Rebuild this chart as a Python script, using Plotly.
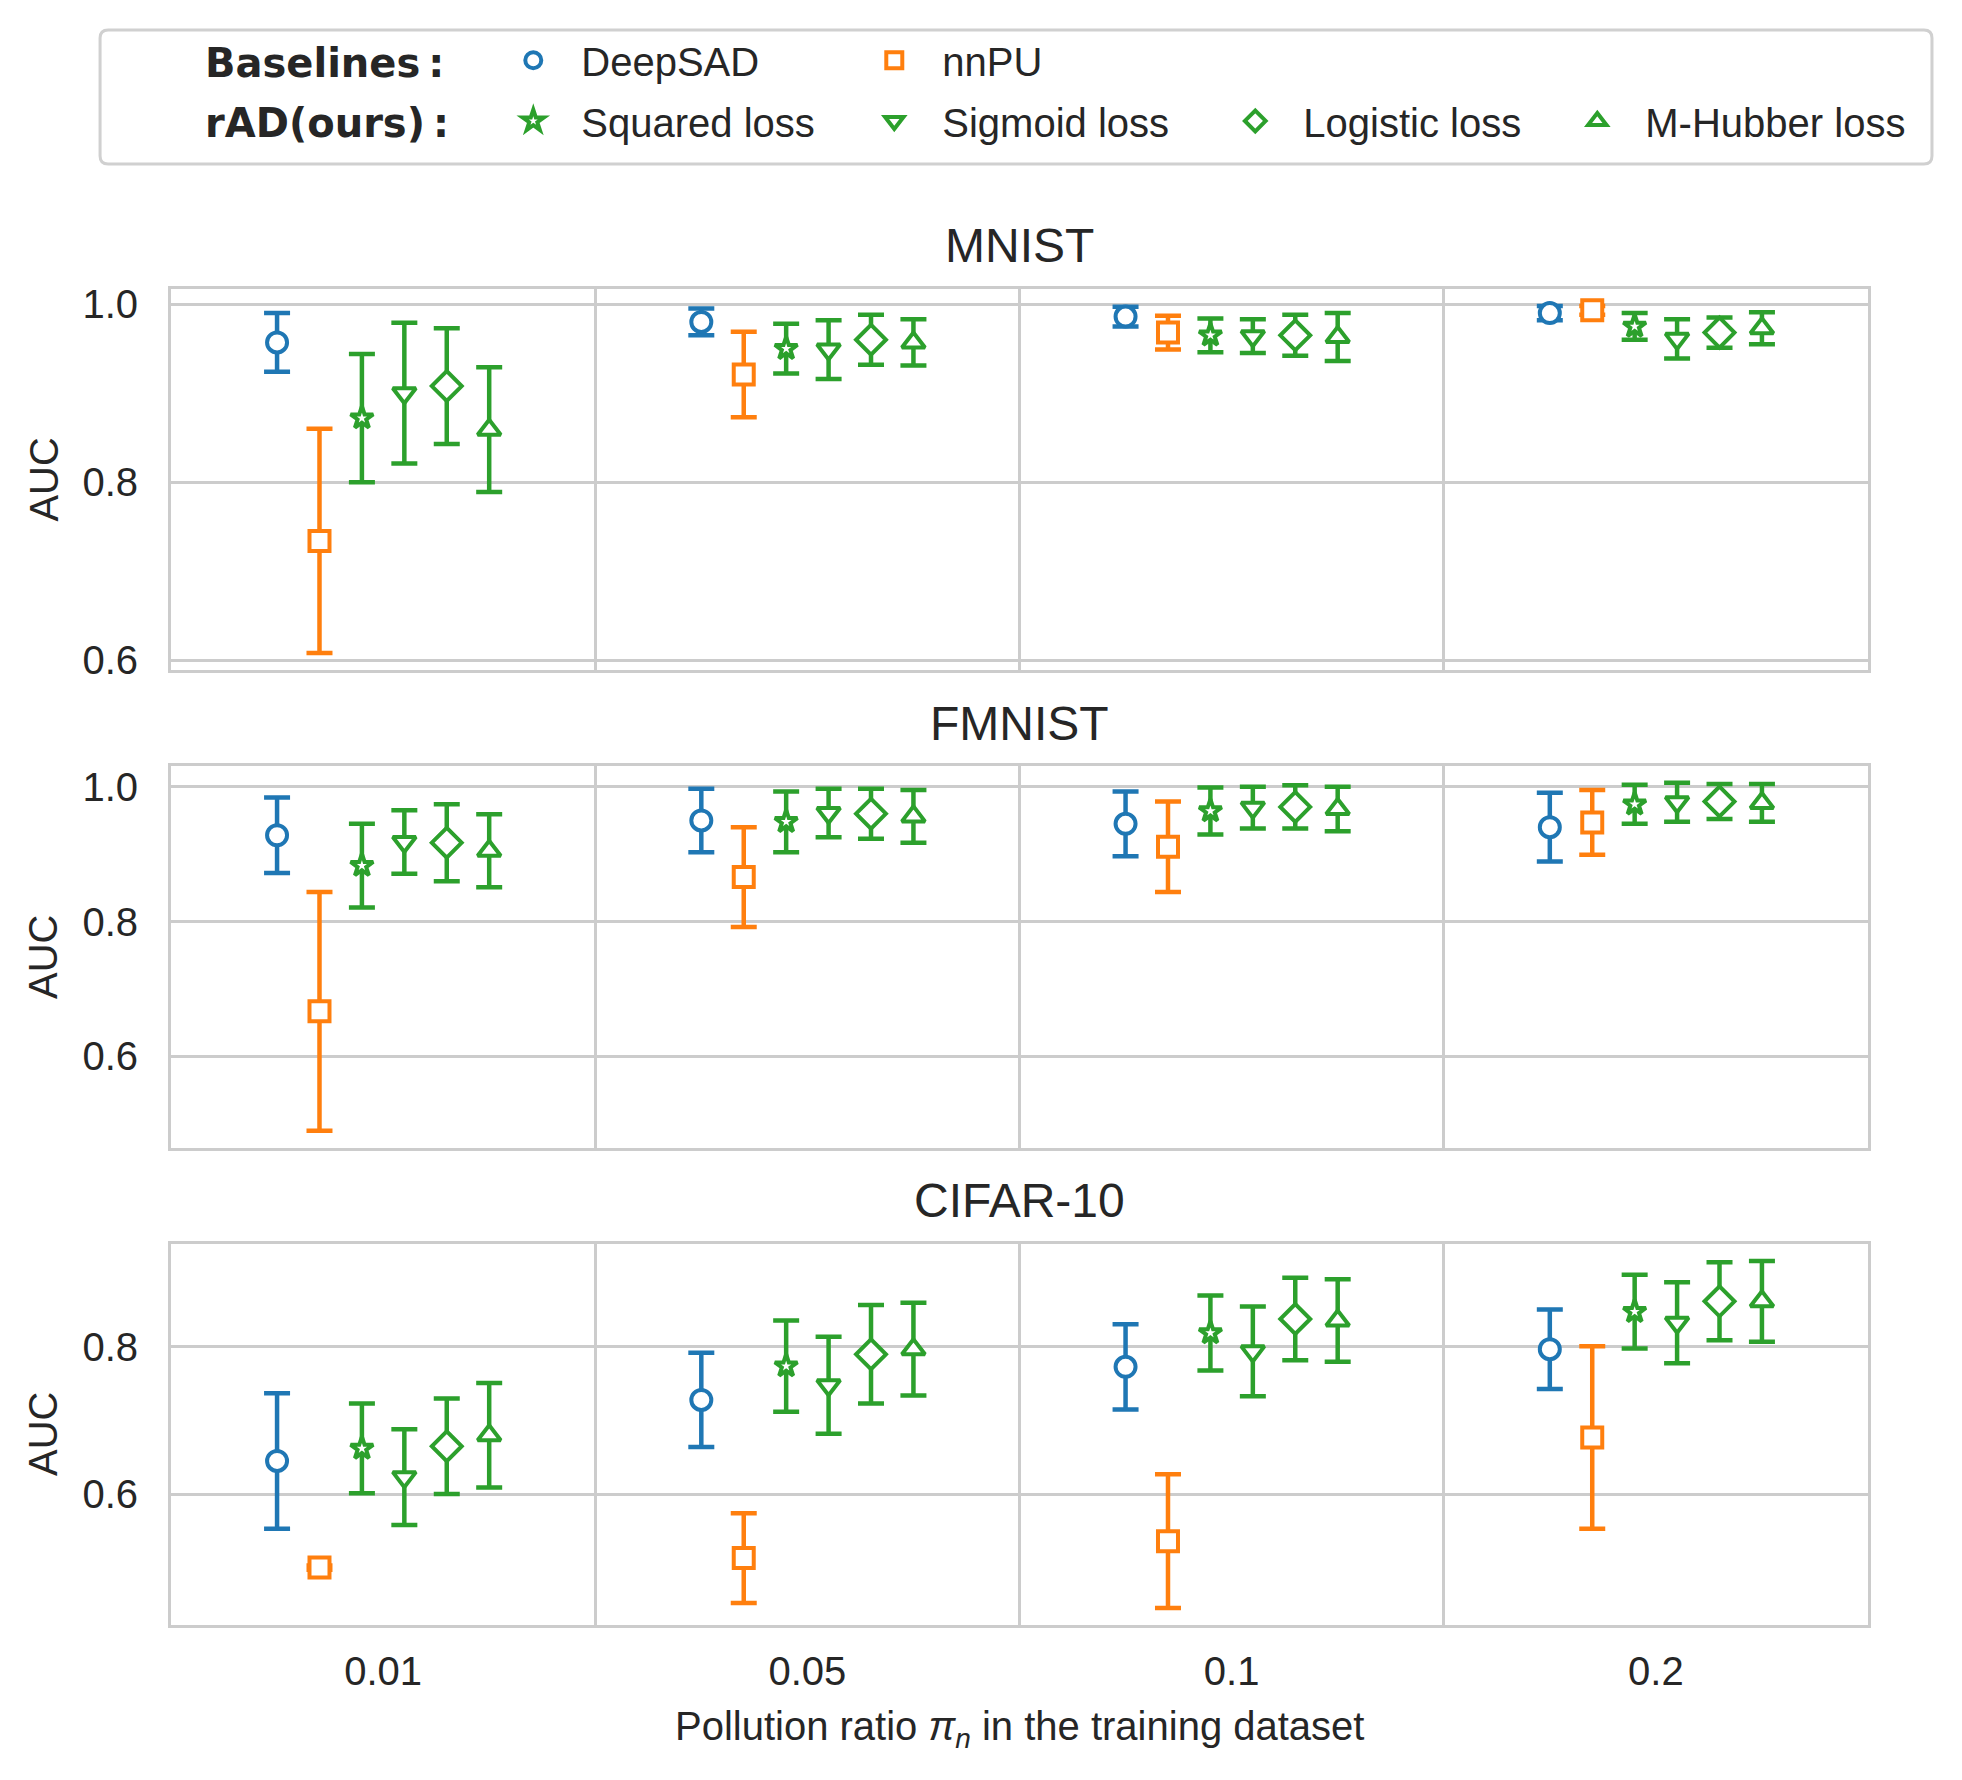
import plotly.graph_objects as go
from plotly.subplots import make_subplots

# Pollution ratios (x categories)
ratios = ["0.01", "0.05", "0.1", "0.2"]
datasets = ["MNIST", "FMNIST", "CIFAR-10"]

# MNIST : mean AUC and std per pollution ratio
mnist_deepsad = [0.957, 0.980, 0.986, 0.990]
mnist_deepsad_std = [0.033, 0.015, 0.011, 0.008]
mnist_nnpu = [0.734, 0.921, 0.968, 0.993]
mnist_nnpu_std = [0.126, 0.048, 0.019, 0.005]
mnist_squared = [0.872, 0.950, 0.965, 0.975]
mnist_squared_std = [0.072, 0.028, 0.019, 0.015]
mnist_sigmoid = [0.900, 0.949, 0.964, 0.961]
mnist_sigmoid_std = [0.079, 0.033, 0.019, 0.022]
mnist_logistic = [0.908, 0.960, 0.965, 0.968]
mnist_logistic_std = [0.065, 0.028, 0.023, 0.017]
mnist_hubber = [0.859, 0.957, 0.963, 0.973]
mnist_hubber_std = [0.070, 0.026, 0.027, 0.018]

# FMNIST
fmnist_deepsad = [0.928, 0.950, 0.945, 0.940]
fmnist_deepsad_std = [0.056, 0.047, 0.048, 0.051]
fmnist_nnpu = [0.667, 0.866, 0.911, 0.947]
fmnist_nnpu_std = [0.177, 0.074, 0.067, 0.048]
fmnist_squared = [0.883, 0.948, 0.964, 0.974]
fmnist_squared_std = [0.062, 0.045, 0.035, 0.029]
fmnist_sigmoid = [0.918, 0.961, 0.969, 0.977]
fmnist_sigmoid_std = [0.047, 0.036, 0.031, 0.029]
fmnist_logistic = [0.917, 0.960, 0.970, 0.978]
fmnist_logistic_std = [0.057, 0.037, 0.032, 0.026]
fmnist_hubber = [0.905, 0.956, 0.967, 0.976]
fmnist_hubber_std = [0.054, 0.039, 0.033, 0.028]

# CIFAR-10
cifar_deepsad = [0.645, 0.728, 0.773, 0.797]
cifar_deepsad_std = [0.092, 0.064, 0.058, 0.054]
cifar_nnpu = [0.500, 0.513, 0.536, 0.677]
cifar_nnpu_std = [0.003, 0.061, 0.091, 0.124]
cifar_squared = [0.662, 0.774, 0.819, 0.848]
cifar_squared_std = [0.061, 0.062, 0.051, 0.050]
cifar_sigmoid = [0.623, 0.748, 0.794, 0.833]
cifar_sigmoid_std = [0.065, 0.066, 0.061, 0.055]
cifar_logistic = [0.665, 0.790, 0.838, 0.862]
cifar_logistic_std = [0.065, 0.067, 0.056, 0.053]
cifar_hubber = [0.680, 0.797, 0.836, 0.862]
cifar_hubber_std = [0.071, 0.063, 0.056, 0.055]

methods = ["DeepSAD", "nnPU", "Squared loss", "Sigmoid loss", "Logistic loss", "M-Hubber loss"]

data = {
    "MNIST": [
        (mnist_deepsad, mnist_deepsad_std), (mnist_nnpu, mnist_nnpu_std),
        (mnist_squared, mnist_squared_std), (mnist_sigmoid, mnist_sigmoid_std),
        (mnist_logistic, mnist_logistic_std), (mnist_hubber, mnist_hubber_std),
    ],
    "FMNIST": [
        (fmnist_deepsad, fmnist_deepsad_std), (fmnist_nnpu, fmnist_nnpu_std),
        (fmnist_squared, fmnist_squared_std), (fmnist_sigmoid, fmnist_sigmoid_std),
        (fmnist_logistic, fmnist_logistic_std), (fmnist_hubber, fmnist_hubber_std),
    ],
    "CIFAR-10": [
        (cifar_deepsad, cifar_deepsad_std), (cifar_nnpu, cifar_nnpu_std),
        (cifar_squared, cifar_squared_std), (cifar_sigmoid, cifar_sigmoid_std),
        (cifar_logistic, cifar_logistic_std), (cifar_hubber, cifar_hubber_std),
    ],
}

# style des séries
BLUE, ORANGE, GREEN = "#1f77b4", "#ff7f0e", "#2ca02c"
colors = [BLUE, ORANGE, GREEN, GREEN, GREEN, GREEN]
symbols = ["circle", "square", "star", "triangle-down", "diamond", "triangle-up"]
sizes = [20, 20, 17, 20, 23, 20]
offsets = [-0.25, -0.15, -0.05, 0.05, 0.15, 0.25]
# légende : baselines sur la 1re ligne, rAD sur la 2e (M-Hubber à part pour l'alignement)
legend_ids = ["legend", "legend", "legend2", "legend2", "legend2", "legend3"]
y_ranges = [[0.589, 1.017], [0.465, 1.030], [0.422, 0.940]]
y_ticks = [[0.6, 0.8, 1.0], [0.6, 0.8, 1.0], [0.6, 0.8]]

FONT = "Liberation Sans, Arial, sans-serif"
TXT = "#262626"
GRID = "#cccccc"

fig = make_subplots(rows=3, cols=1, shared_xaxes=True, vertical_spacing=0.0722)

for r, name in enumerate(datasets, start=1):
    for k, (mean, std) in enumerate(data[name]):
        fig.add_trace(
            go.Scatter(
                x=[i + offsets[k] for i in range(len(ratios))],
                y=mean,
                mode="markers",
                name=methods[k],
                legendgroup=methods[k],
                legend=legend_ids[k],
                showlegend=(r == 1),
                marker=dict(
                    symbol=symbols[k],
                    size=sizes[k],
                    color="white",
                    line=dict(width=4, color=colors[k]),
                ),
                error_y=dict(
                    type="data", array=std, visible=True,
                    color=colors[k], thickness=4.5, width=13,
                ),
            ),
            row=r, col=1,
        )
    fig.update_yaxes(
        range=y_ranges[r - 1], tickvals=y_ticks[r - 1], tickformat=".1f",
        row=r, col=1,
    )

fig.update_xaxes(
    range=[-0.5, 3.5],
    tickvals=list(range(len(ratios))),
    ticktext=ratios,
    showgrid=False,
    minor=dict(tickvals=[0.5, 1.5, 2.5], showgrid=True, gridcolor=GRID, gridwidth=2.5),
    showline=True, mirror=True, linecolor=GRID, linewidth=3,
    zeroline=False, ticks="", ticklabelstandoff=9,
    tickfont=dict(size=40, family=FONT, color=TXT),
)
fig.update_yaxes(
    showgrid=True, gridcolor=GRID, gridwidth=2.5,
    showline=True, mirror=True, linecolor=GRID, linewidth=3,
    zeroline=False, ticks="", ticklabelstandoff=22,
    tickfont=dict(size=40, family=FONT, color=TXT),
)

# titres des sous-figures et étiquettes AUC
title_y = [1.0322, 0.6751, 0.3181]
auc_y = [0.8574, 0.5000, 0.1430]
annotations = []
for name, ty, ay in zip(datasets, title_y, auc_y):
    annotations.append(dict(
        text=name, x=0.5, y=ty, xref="paper", yref="paper",
        xanchor="center", yanchor="middle", showarrow=False,
        font=dict(size=48, family=FONT, color=TXT),
    ))
    annotations.append(dict(
        text="AUC", x=-0.0754, y=ay, xref="paper", yref="paper",
        xanchor="center", yanchor="middle", showarrow=False, textangle=-90,
        font=dict(size=40, family=FONT, color=TXT),
    ))

annotations.append(dict(
    text="Pollution ratio <i>π<sub>n</sub></i> in the training dataset",
    x=0.5, y=-0.078, xref="paper", yref="paper",
    xanchor="center", yanchor="middle", showarrow=False,
    font=dict(size=40, family=FONT, color=TXT),
))

# en-têtes de la légende
for text, hy in [("Baselines\u2009:", 1.1695), ("rAD(ours)\u2009:", 1.1245)]:
    annotations.append(dict(
        text=f"<b>{text}</b>", x=0.019, y=hy, xref="paper", yref="paper",
        xanchor="left", yanchor="middle", showarrow=False,
        font=dict(size=40, family="DejaVu Sans", color=TXT),
    ))

# cadre de la légende (coins arrondis)
x0, x1, y0, y1 = -0.0418, 1.0377, 1.0936, 1.1939
rx, ry = 8 / 1697, 8 / 1336
path = (
    f"M {x0 + rx},{y0} L {x1 - rx},{y0} Q {x1},{y0} {x1},{y0 + ry} "
    f"L {x1},{y1 - ry} Q {x1},{y1} {x1 - rx},{y1} "
    f"L {x0 + rx},{y1} Q {x0},{y1} {x0},{y1 - ry} "
    f"L {x0},{y0 + ry} Q {x0},{y0} {x0 + rx},{y0} Z"
)

legend_style = dict(
    orientation="h", xref="paper", yref="paper",
    xanchor="left", yanchor="middle",
    entrywidth=260, entrywidthmode="pixels", itemwidth=86,
    font=dict(size=40, family=FONT, color=TXT),
    bgcolor="rgba(0,0,0,0)", borderwidth=0, traceorder="normal",
)

# la page HTML ajoute une marge de 8 px autour de la figure
fig.update_layout(
    width=1954,
    height=1772,
    margin=dict(l=163, r=94, t=281, b=155),
    plot_bgcolor="white",
    paper_bgcolor="white",
    font=dict(family=FONT, color=TXT),
    legend=dict(legend_style, x=0.1852, y=1.1712),
    legend2=dict(legend_style, x=0.1852, y=1.1258),
    legend3=dict(legend_style, x=0.8122, y=1.1258),
    annotations=annotations,
    shapes=[dict(
        type="path", path=path, xref="paper", yref="paper",
        line=dict(color="#d0d0d0", width=3), fillcolor="rgba(0,0,0,0)",
    )],
)

fig.write_html("out.html")
